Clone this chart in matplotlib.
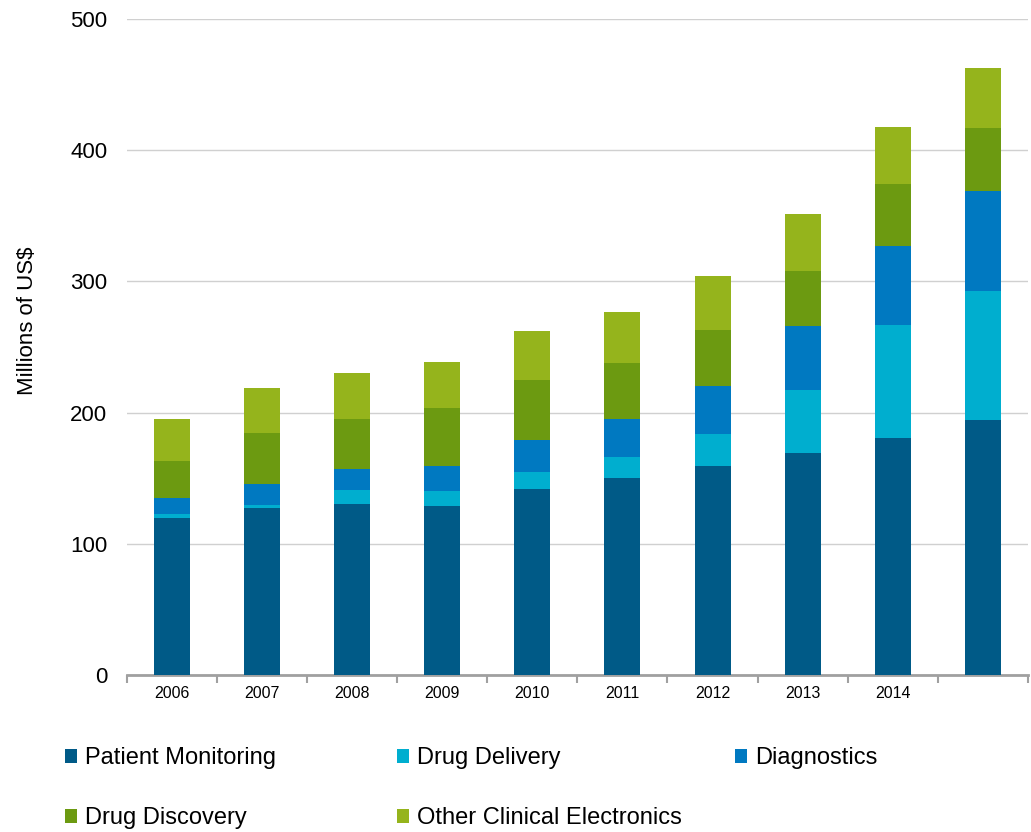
import numpy as np
import matplotlib.pyplot as plt

plt.rcParams['font.family'] = ['Liberation Sans', 'DejaVu Sans']

# datos (millones de US$)
years = ['2006', '2007', '2008', '2009', '2010', '2011', '2012', '2013', '2014', '']
patient_monitoring = [120, 127, 130, 129, 142, 150, 159, 169, 181, 194]
drug_delivery = [2.5, 2.5, 11, 11.5, 13, 16, 25, 48, 86, 99]
diagnostics = [12.5, 16, 16, 19, 24, 29, 36, 49, 60, 76]
drug_discovery = [28, 39, 38, 44, 46, 43, 43, 42, 47, 48]
other_clinical = [32, 34, 35, 35, 37, 39, 41, 43, 44, 46]

series = [
    ('Patient Monitoring', patient_monitoring, '#005A87'),
    ('Drug Delivery', drug_delivery, '#00AECF'),
    ('Diagnostics', diagnostics, '#0079C1'),
    ('Drug Discovery', drug_discovery, '#6C9A11'),
    ('Other Clinical Electronics', other_clinical, '#95B41C'),
]

fig = plt.figure(figsize=(10.31, 8.32), dpi=100)
ax = fig.add_axes([0.123, 0.1887, 0.874, 0.7885])

x = np.arange(len(years))
bottom = np.zeros(len(years))
handles = {}
for name, vals, color in series:
    bars = ax.bar(x, vals, 0.4, bottom=bottom, color=color, label=name, zorder=3)
    handles[name] = bars
    bottom += np.array(vals)

ax.set_ylim(0, 500)
ax.set_xlim(-0.5, len(years) - 0.5)
ax.set_yticks(range(0, 501, 100))
ax.yaxis.grid(True, color='#D0D0D0', linewidth=1, zorder=0)
ax.tick_params(axis='y', length=0, labelsize=16, pad=14)

# marcas en los limites de categoria, etiquetas en el centro
ax.set_xticks(np.arange(-0.5, len(years), 1))
ax.set_xticklabels([])
ax.set_xticks(x, minor=True)
ax.set_xticklabels(years, minor=True, fontsize=11.5)
ax.tick_params(axis='x', which='major', length=6, width=1.5, color='#A0A0A0')
ax.tick_params(axis='x', which='minor', length=0, pad=8)

for s in ['left', 'right', 'top']:
    ax.spines[s].set_visible(False)
ax.spines['bottom'].set_color('#A0A0A0')
ax.spines['bottom'].set_linewidth(2)

ax.set_ylabel('Millions of US$', fontsize=16)
ax.yaxis.set_label_coords(-0.099, 0.54)

# leyenda en tres columnas
cols = [(['Patient Monitoring', 'Drug Discovery'], 0.054),
        (['Drug Delivery', 'Other Clinical Electronics'], 0.376),
        (['Diagnostics'], 0.704)]
for names, xpos in cols:
    fig.legend([handles[n] for n in names], names, loc='upper left',
               bbox_to_anchor=(xpos, 0.113), frameon=False, fontsize=17,
               handlelength=0.5, handleheight=0.5, handletextpad=0.35,
               labelspacing=1.6, borderaxespad=0)

plt.savefig('out.png', dpi=100)
